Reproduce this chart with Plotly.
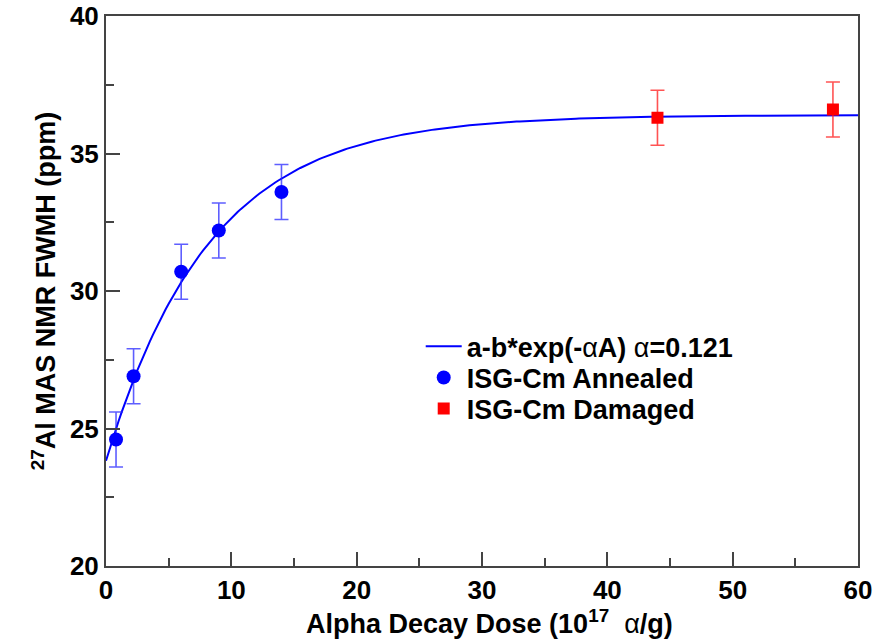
import numpy as np
import plotly.graph_objects as go

# Annealed (blue circles)
annealed_x = [0.8, 2.2, 6.0, 9.0, 14.0]
annealed_y = [24.6, 26.9, 30.7, 32.2, 33.6]
annealed_err = [1.0, 1.0, 1.0, 1.0, 1.0]

# Damaged (red squares)
damaged_x = [44.0, 58.0]
damaged_y = [36.3, 36.6]
damaged_err = [1.0, 1.0]

# Fit parameters: a - b*exp(-alpha*A)
fit_a = 36.4
fit_b = 12.57
fit_alpha = 0.121
fit_x = np.linspace(0, 60, 241)
fit_y = fit_a - fit_b * np.exp(-fit_alpha * fit_x)

FONT = "Liberation Sans, Arial, Helvetica, sans-serif"
NORMAL = "<span style='font-weight:normal'>α</span>"

fig = go.Figure()
fig.add_trace(go.Scatter(
    x=fit_x, y=fit_y, mode="lines",
    line=dict(color="#0000ff", width=2),
    name=f"a-b*exp(-{NORMAL}A) {NORMAL}=0.121",
    legend="legend",
))
fig.add_trace(go.Scatter(
    x=annealed_x, y=annealed_y, mode="markers",
    marker=dict(symbol="circle", size=14, color="#0000ff"),
    error_y=dict(type="data", array=annealed_err, color="rgba(40,40,255,0.75)", thickness=1.6, width=7),
    name="ISG-Cm Annealed",
    legend="legend2",
))
fig.add_trace(go.Scatter(
    x=damaged_x, y=damaged_y, mode="markers",
    marker=dict(symbol="square", size=12, color="#ff0000"),
    error_y=dict(type="data", array=damaged_err, color="rgba(255,40,40,0.8)", thickness=1.6, width=7),
    name="ISG-Cm Damaged",
    legend="legend3",
))

axis_common = dict(
    showgrid=False, zeroline=False, showline=True, mirror=True,
    linecolor="#444444", linewidth=2, automargin=False,
    ticks="inside", ticklen=14, tickwidth=1.5, tickcolor="#444444",
    tickfont=dict(family=FONT, size=26, color="black", weight="bold"),
)

legend_common = dict(
    xanchor="left", yanchor="middle", xref="paper", yref="paper",
    bgcolor="rgba(0,0,0,0)", borderwidth=0,
    font=dict(family=FONT, size=27, color="black", weight="bold"),
    itemwidth=36,
)

fig.update_layout(
    width=878, height=641,
    margin=dict(l=106, r=20, t=16, b=75),
    paper_bgcolor="white", plot_bgcolor="white",
    xaxis=dict(
        range=[0, 60], dtick=10, tick0=0,
        minor=dict(ticks="inside", ticklen=8, dtick=5, tickwidth=1.5, tickcolor="#444444"),
        **axis_common,
    ),
    yaxis=dict(
        range=[20, 40], dtick=5, tick0=20,
        minor=dict(ticks="inside", ticklen=8, dtick=2.5, tickwidth=1.5, tickcolor="#444444"),
        title=dict(text="<sup>27</sup>Al MAS NMR FWMH (ppm)",
                   font=dict(family=FONT, size=27, color="black", weight="bold"), standoff=6),
        **axis_common,
    ),
    legend=dict(x=0.4185, y=0.3987, **legend_common),
    legend2=dict(x=0.4185, y=0.3418, **legend_common),
    legend3=dict(x=0.4185, y=0.2855, **legend_common),
    showlegend=True,
    annotations=[dict(
        text="Alpha Decay Dose (10<sup>17</sup>  " + NORMAL + "/g)",
        xref="paper", yref="paper", x=0.5106, y=-0.101,
        xanchor="center", yanchor="middle", showarrow=False,
        font=dict(family=FONT, size=27, color="black", weight="bold"),
    )],
)

fig.write_html("out.html")
